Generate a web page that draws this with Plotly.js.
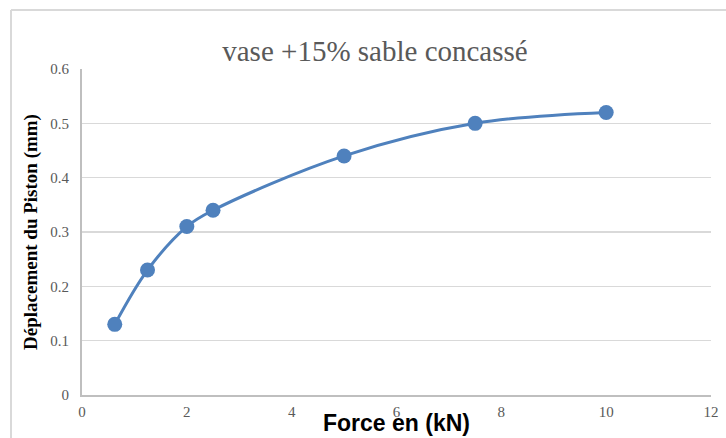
<!DOCTYPE html>
<html>
<head>
<meta charset="utf-8">
<script src="https://cdn.plot.ly/plotly-3.0.1.min.js"></script>
<style>html,body{margin:0;padding:0;background:#fff;}#chart{width:726px;height:438px;}</style>
</head>
<body>
<div id="chart"></div>
<script>
const force = [0.625, 1.25, 2, 2.5, 5, 7.5, 10];
const deplacement = [0.13, 0.23, 0.31, 0.34, 0.44, 0.50, 0.52];
const chartTitle = "vase +15% sable concassé";
const xTitle = "Force en (kN)";
const yTitle = "Déplacement du Piston (mm)";

const trace = {
  x: force, y: deplacement, type: 'scatter', mode: 'lines+markers',
  line: {color: '#4F81BD', width: 3, shape: 'spline', smoothing: 1},
  marker: {color: '#4F81BD', size: 15},
  hoverinfo: 'none'
};
const tickFont = {family: '"Liberation Serif", "Times New Roman", serif', size: 15, color: '#595959'};
const layout = {
  width: 726, height: 438,
  margin: {l: 82, r: 15, t: 69, b: 43},
  paper_bgcolor: '#fff', plot_bgcolor: '#fff',
  showlegend: false,
  title: {text: chartTitle, x: 0.5165, xanchor: 'center', y: 0.885, yanchor: 'middle',
          font: {family: '"Liberation Serif", serif', size: 29, color: '#595959'}},
  xaxis: {range: [0, 12], dtick: 2, tick0: 0, showgrid: false, zeroline: false,
          showline: true, linecolor: '#BFBFBF', linewidth: 2, ticks: '', tickfont: tickFont,
          ticklabelstandoff: 2},
  yaxis: {range: [0, 0.6], dtick: 0.1, tick0: 0, showgrid: true, gridcolor: '#D9D9D9', gridwidth: 1.5,
          zeroline: false, showline: true, linecolor: '#BFBFBF', linewidth: 2, ticks: '', tickfont: tickFont,
          ticklabelstandoff: 8,
          title: {text: yTitle, standoff: 8, font: {family: '"Liberation Serif", serif', size: 19, color: '#000', weight: 'bold'}}},
  annotations: [
    {text: xTitle, xref: 'paper', yref: 'paper', x: 0.5, y: (395 - 423) / 326, xanchor: 'center', yanchor: 'middle',
     showarrow: false, font: {family: '"Liberation Sans", Arial, sans-serif', size: 23, color: '#000', weight: 'bold'}}
  ],
  shapes: [
    {type: 'line', xref: 'paper', yref: 'paper', x0: -0.1129, x1: -0.1129, y0: 1.181, y1: -0.2, line: {color: '#D9D9D9', width: 2}},
    {type: 'line', xref: 'paper', yref: 'paper', x0: -0.1129, x1: 1.1, y0: 1.181, y1: 1.181, line: {color: '#D9D9D9', width: 2}}
  ]
};
Plotly.newPlot('chart', [trace], layout, {displayModeBar: false, staticPlot: true});
</script>
</body>
</html>
